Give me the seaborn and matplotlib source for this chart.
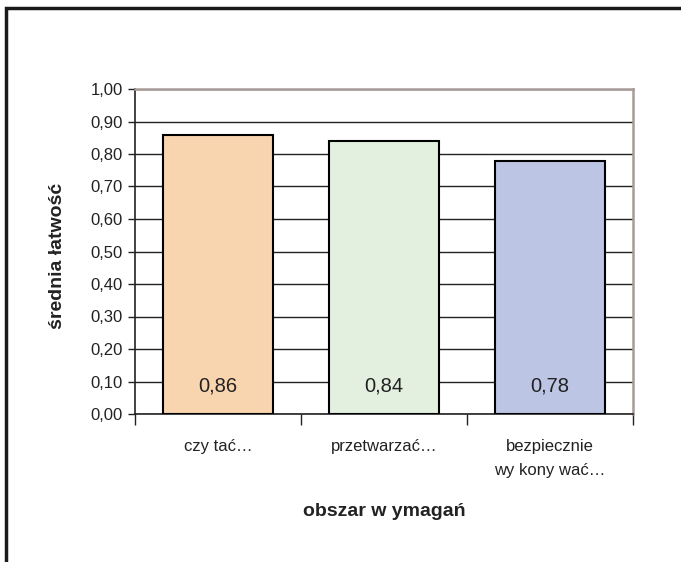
import numpy as np
import pandas as pd
import seaborn as sns
import matplotlib.pyplot as plt
from matplotlib.patches import Rectangle
from matplotlib.ticker import FixedLocator, FuncFormatter

# dane z wykresu
obszary = ["czy tać…", "przetwarzać…", "bezpiecznie\nwy kony wać…"]
latwosc = [0.86, 0.84, 0.78]
kolory = ["#F8D5AE", "#E3F0E0", "#BCC5E3"]

df = pd.DataFrame({"obszar": obszary, "latwosc": latwosc})

sns.set_style("white")
plt.rcParams['font.family'] = ['Liberation Sans', 'DejaVu Sans']

fig = plt.figure(figsize=(6.81, 5.62), dpi=100)
ax = fig.add_axes([135/681, 1-414/562, 498/681, 325/562])

sns.barplot(data=df, x="obszar", y="latwosc", hue="obszar", palette=kolory, saturation=1,
            edgecolor="black", linewidth=1.5, width=0.66, legend=False, ax=ax, zorder=3)

ax.set_ylim(0, 1.0)
ax.set_xlim(-0.5, 2.5)
ax.set_yticks(np.arange(0, 1.01, 0.1))
ax.yaxis.set_major_formatter(FuncFormatter(lambda v, p: f"{v:.2f}".replace(".", ",")))
ax.grid(axis="y", color="#222222", linewidth=1.0, zorder=0)
ax.set_axisbelow(True)

# etykiety wartości
for i, v in enumerate(latwosc):
    ax.text(i, 0.085, f"{v:.2f}".replace(".", ","), ha="center", va="center",
            fontsize=14.5, color="#222222", zorder=4)

for s in ["left", "bottom"]:
    ax.spines[s].set_color("#222222")
    ax.spines[s].set_linewidth(1.2)
for s in ["top", "right"]:
    ax.spines[s].set_color("#A89A96")
    ax.spines[s].set_linewidth(1.8)

ax.tick_params(axis="y", direction="out", length=5, width=1, color="#222222",
               labelsize=12, labelcolor="#222222", left=True, pad=4)
ax.xaxis.set_minor_locator(FixedLocator([-0.5, 0.5, 1.5, 2.5]))
ax.tick_params(axis="x", which="minor", direction="out", length=8, width=1, color="#222222", bottom=True)
ax.tick_params(axis="x", which="major", length=0, labelsize=12, labelcolor="#222222", pad=18)
for lab in ax.get_xticklabels():
    lab.set_linespacing(1.75)

ax.set_xlabel("obszar w ymagań", fontsize=14, fontweight="bold", color="#222222")
ax.set_ylabel("średnia łatwość", fontsize=14, fontweight="bold", color="#222222")
ax.xaxis.set_label_coords(0.5, (414 - 512) / 325)
ax.yaxis.set_label_coords((58 - 135) / 498, 0.485)
ax.xaxis.label.set_va("center")
ax.yaxis.label.set_va("center")

# ramka wokół wykresu
fig.patches.append(Rectangle((6/681, -0.1), 1.2, 1 - 8/562 + 0.1, transform=fig.transFigure,
                             fill=False, edgecolor="#1a1a1a", linewidth=2.5))

fig.savefig("out.png", dpi=100)
